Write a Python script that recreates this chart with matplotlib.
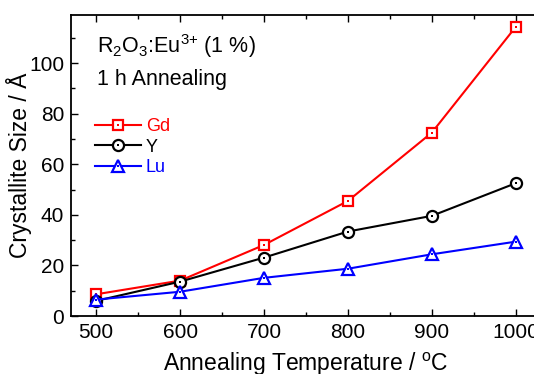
import matplotlib
matplotlib.use("Agg")
import matplotlib.pyplot as plt
from matplotlib.ticker import MultipleLocator
from matplotlib.legend_handler import HandlerTuple

plt.rcParams['font.family'] = ['Liberation Sans', 'DejaVu Sans']

temps = [500, 600, 700, 800, 900, 1000]
gd = [8.6, 14.0, 28.1, 45.5, 72.5, 114.3]
y_vals = [6.0, 13.6, 23.1, 33.4, 39.6, 52.5]
lu = [6.5, 9.6, 15.1, 18.7, 24.4, 29.4]

series = [
    ("Gd", gd, "#ff0000", "s", 7.5),
    ("Y", y_vals, "#000000", "o", 8),
    ("Lu", lu, "#0000ff", "^", 9),
]

fig = plt.figure(figsize=(5.34, 3.74), dpi=100)
ax = fig.add_axes([0.133, 0.155, 0.88, 0.805])

handles = []
labels = []
for name, vals, col, mk, ms in series:
    l1, = ax.plot(temps, vals, color=col, lw=1.5, marker=mk, ms=ms,
                  mfc='white', mec=col, mew=1.6)
    l2, = ax.plot(temps, vals, ls='none', marker='s', ms=1.6, color=col, mew=0)
    handles.append((l1, l2))
    labels.append(name)

ax.set_xlim(470, 1030)
ax.set_ylim(0, 119)
ax.xaxis.set_major_locator(MultipleLocator(100))
ax.xaxis.set_minor_locator(MultipleLocator(50))
ax.yaxis.set_major_locator(MultipleLocator(20))
ax.yaxis.set_minor_locator(MultipleLocator(10))
ax.tick_params(which='both', direction='in', top=True, right=True, labelsize=15, width=1)
ax.tick_params(which='major', length=5, pad=5)
ax.tick_params(which='minor', length=3)
for s in ax.spines.values():
    s.set_linewidth(1.3)

ax.set_xlabel("Annealing Temperature / $^\\mathregular{o}$C", fontsize=16.5, labelpad=6)
ax.set_ylabel("Crystallite Size / Å", fontsize=16.5)
ax.yaxis.set_label_coords(-0.083, 0.5)

ax.text(0.055, 0.897, "R$_\\mathregular{2}$O$_\\mathregular{3}$:Eu$^\\mathregular{3{+}}$ (1 %)",
        transform=ax.transAxes, fontsize=15.5, va='center')
ax.text(0.055, 0.784, "1 h Annealing", transform=ax.transAxes, fontsize=15.5, va='center')

leg = ax.legend(handles, labels, handler_map={tuple: HandlerTuple(ndivide=1)},
                loc='upper left', bbox_to_anchor=(0.025, 0.70), frameon=False,
                fontsize=13, handlelength=2.5, handletextpad=0.3, labelspacing=0.2,
                borderpad=0.2)
for txt, (name, vals, col, mk, ms) in zip(leg.get_texts(), series):
    txt.set_color(col)

fig.savefig("out.png", dpi=100)
